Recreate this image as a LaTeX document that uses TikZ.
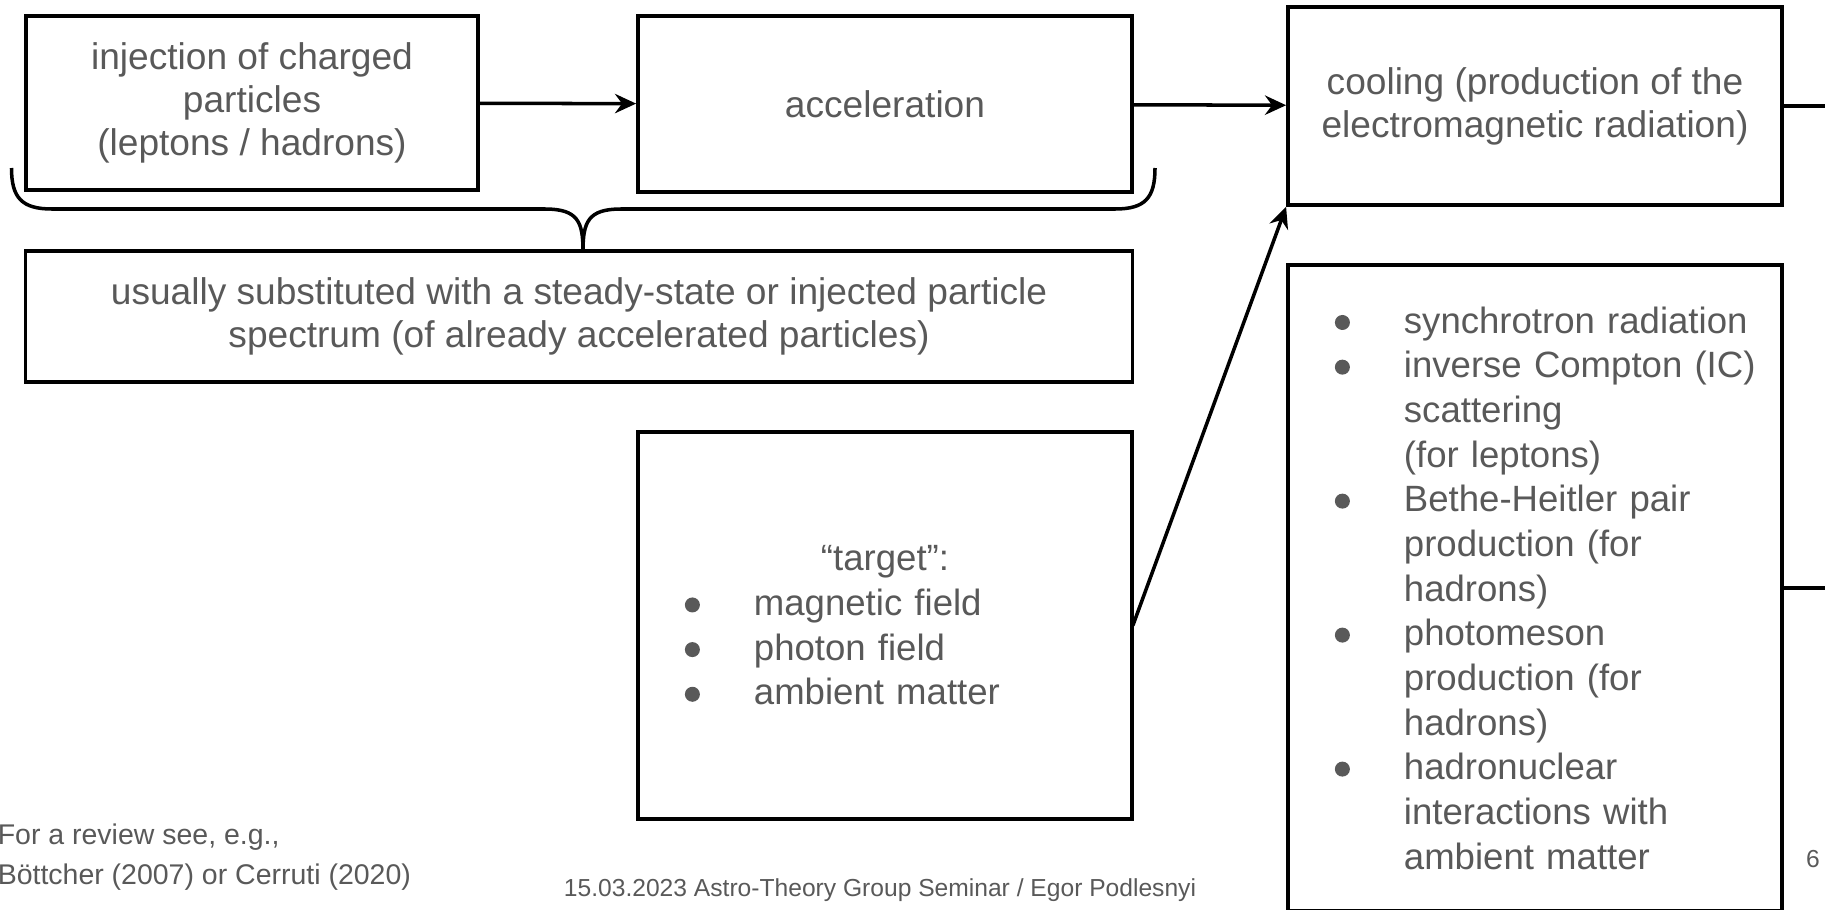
\documentclass[tikz,border=0pt]{standalone}
\usepackage{fontspec}
\setmainfont{Liberation Sans}
\usetikzlibrary{arrows.meta}
\definecolor{txtgray}{RGB}{89,89,89}
\newcommand{\bul}{\tikz[baseline=-0.55ex]\fill[txtgray] (0.075cm,0) circle (0.075cm);}
\newcommand{\bitem}[1]{\makebox[0.69cm][l]{\bul}\mbox{#1}}
\newcommand{\bcont}[1]{\hspace*{0.69cm}\mbox{#1}}
\tikzset{
  box/.style = {draw=black, align=center, inner sep=0pt, text=txtgray,
    font=\fontsize{10.55pt}{12.2pt}\selectfont},
  lowtext/.style = {execute at begin node={\rule{0pt}{9.7pt}}},% text sits a bit low
  listbox/.style = {box, align=left, text width=4.00cm, inner xsep=0.47cm,
    font=\fontsize{10.4pt}{12.7pt}\selectfont},% lists with bullets
  note/.style = {text=txtgray, inner sep=0pt,
    font=\fontsize{8.1pt}{11.4pt}\selectfont},
  foot/.style = {text=txtgray, inner sep=0pt,
    font=\fontsize{7pt}{8.4pt}\selectfont}
}
\begin{document}
\begin{tikzpicture}[x=0.01cm, y=-0.01cm, line width=1pt,
    >={Stealth[length=6pt, width=5.5pt, inset=2pt]}]
  \clip (0,0) rectangle (1825,909);
  % upper row
  \node [box, lowtext, minimum width=4.52cm, minimum height=1.74cm] (inj) at (252,103)
    {injection of charged\\particles\\(leptons / hadrons)};
  \node [box, minimum width=4.94cm, minimum height=1.76cm] (acc) at (885,104)
    {acceleration};
  \node [box, lowtext, minimum width=4.94cm, minimum height=1.98cm] (cool) at (1535,106)
    {cooling (production of the\\electromagnetic radiation)};
  \node [box, lowtext, minimum width=11.06cm, minimum height=1.31cm] (usual) at (579,316.5)
    {usually substituted with a steady-state or injected particle\\spectrum (of already accelerated particles)};
  % lists
  \node [listbox, minimum height=3.87cm] (target) at (885,625.5)
    {\makebox[4.00cm]{“target”:}\\
     \bitem{magnetic field}\\
     \bitem{photon field}\\
     \bitem{ambient matter}};
  \node [listbox, minimum height=6.46cm] (proc) at (1535,588)
    {\bitem{synchrotron radiation}\\
     \bitem{inverse Compton (IC)}\\
     \bcont{scattering}\\
     \bcont{(for leptons)}\\
     \bitem{Bethe-Heitler pair}\\
     \bcont{production (for}\\
     \bcont{hadrons)}\\
     \bitem{photomeson}\\
     \bcont{production (for}\\
     \bcont{hadrons)}\\
     \bitem{hadronuclear}\\
     \bcont{interactions with}\\
     \bcont{ambient matter}};
  % arrows
  \coordinate (coolout) at (1830,106);
  \coordinate (procout) at (1830,588);
  \draw[->] (inj) -- (acc);
  \draw[->] (acc) -- (cool);
  \draw[->] (target.east) -- (cool.south west);
  \draw (cool.east) -- (coolout);
  \draw (proc.east) -- (procout);
  % brace
  \coordinate (bl) at (11.5,168);
  \coordinate (br) at (1155,168);
  \coordinate (tip) at (583,251);
  \draw (bl) .. controls (11.5,198) and (22,209) .. (52,209) -- (545,209)
    .. controls (578,209) and (583,222) .. (tip);
  \draw (br) .. controls (1155,198) and (1145,209) .. (1115,209) -- (621,209)
    .. controls (588,209) and (583,222) .. (tip);
  % footer
  \node [note, anchor=west, align=left] (review) at (-4,857)
    {For a review see, e.g.,\\Böttcher (2007) or Cerruti (2020)};
  \node [foot] (footer) at (880,890)
    {15.03.2023 Astro-Theory Group Seminar / Egor Podlesnyi};
  \node [foot] (pagenum) at (1813,859) {6};
\end{tikzpicture}
\end{document}
